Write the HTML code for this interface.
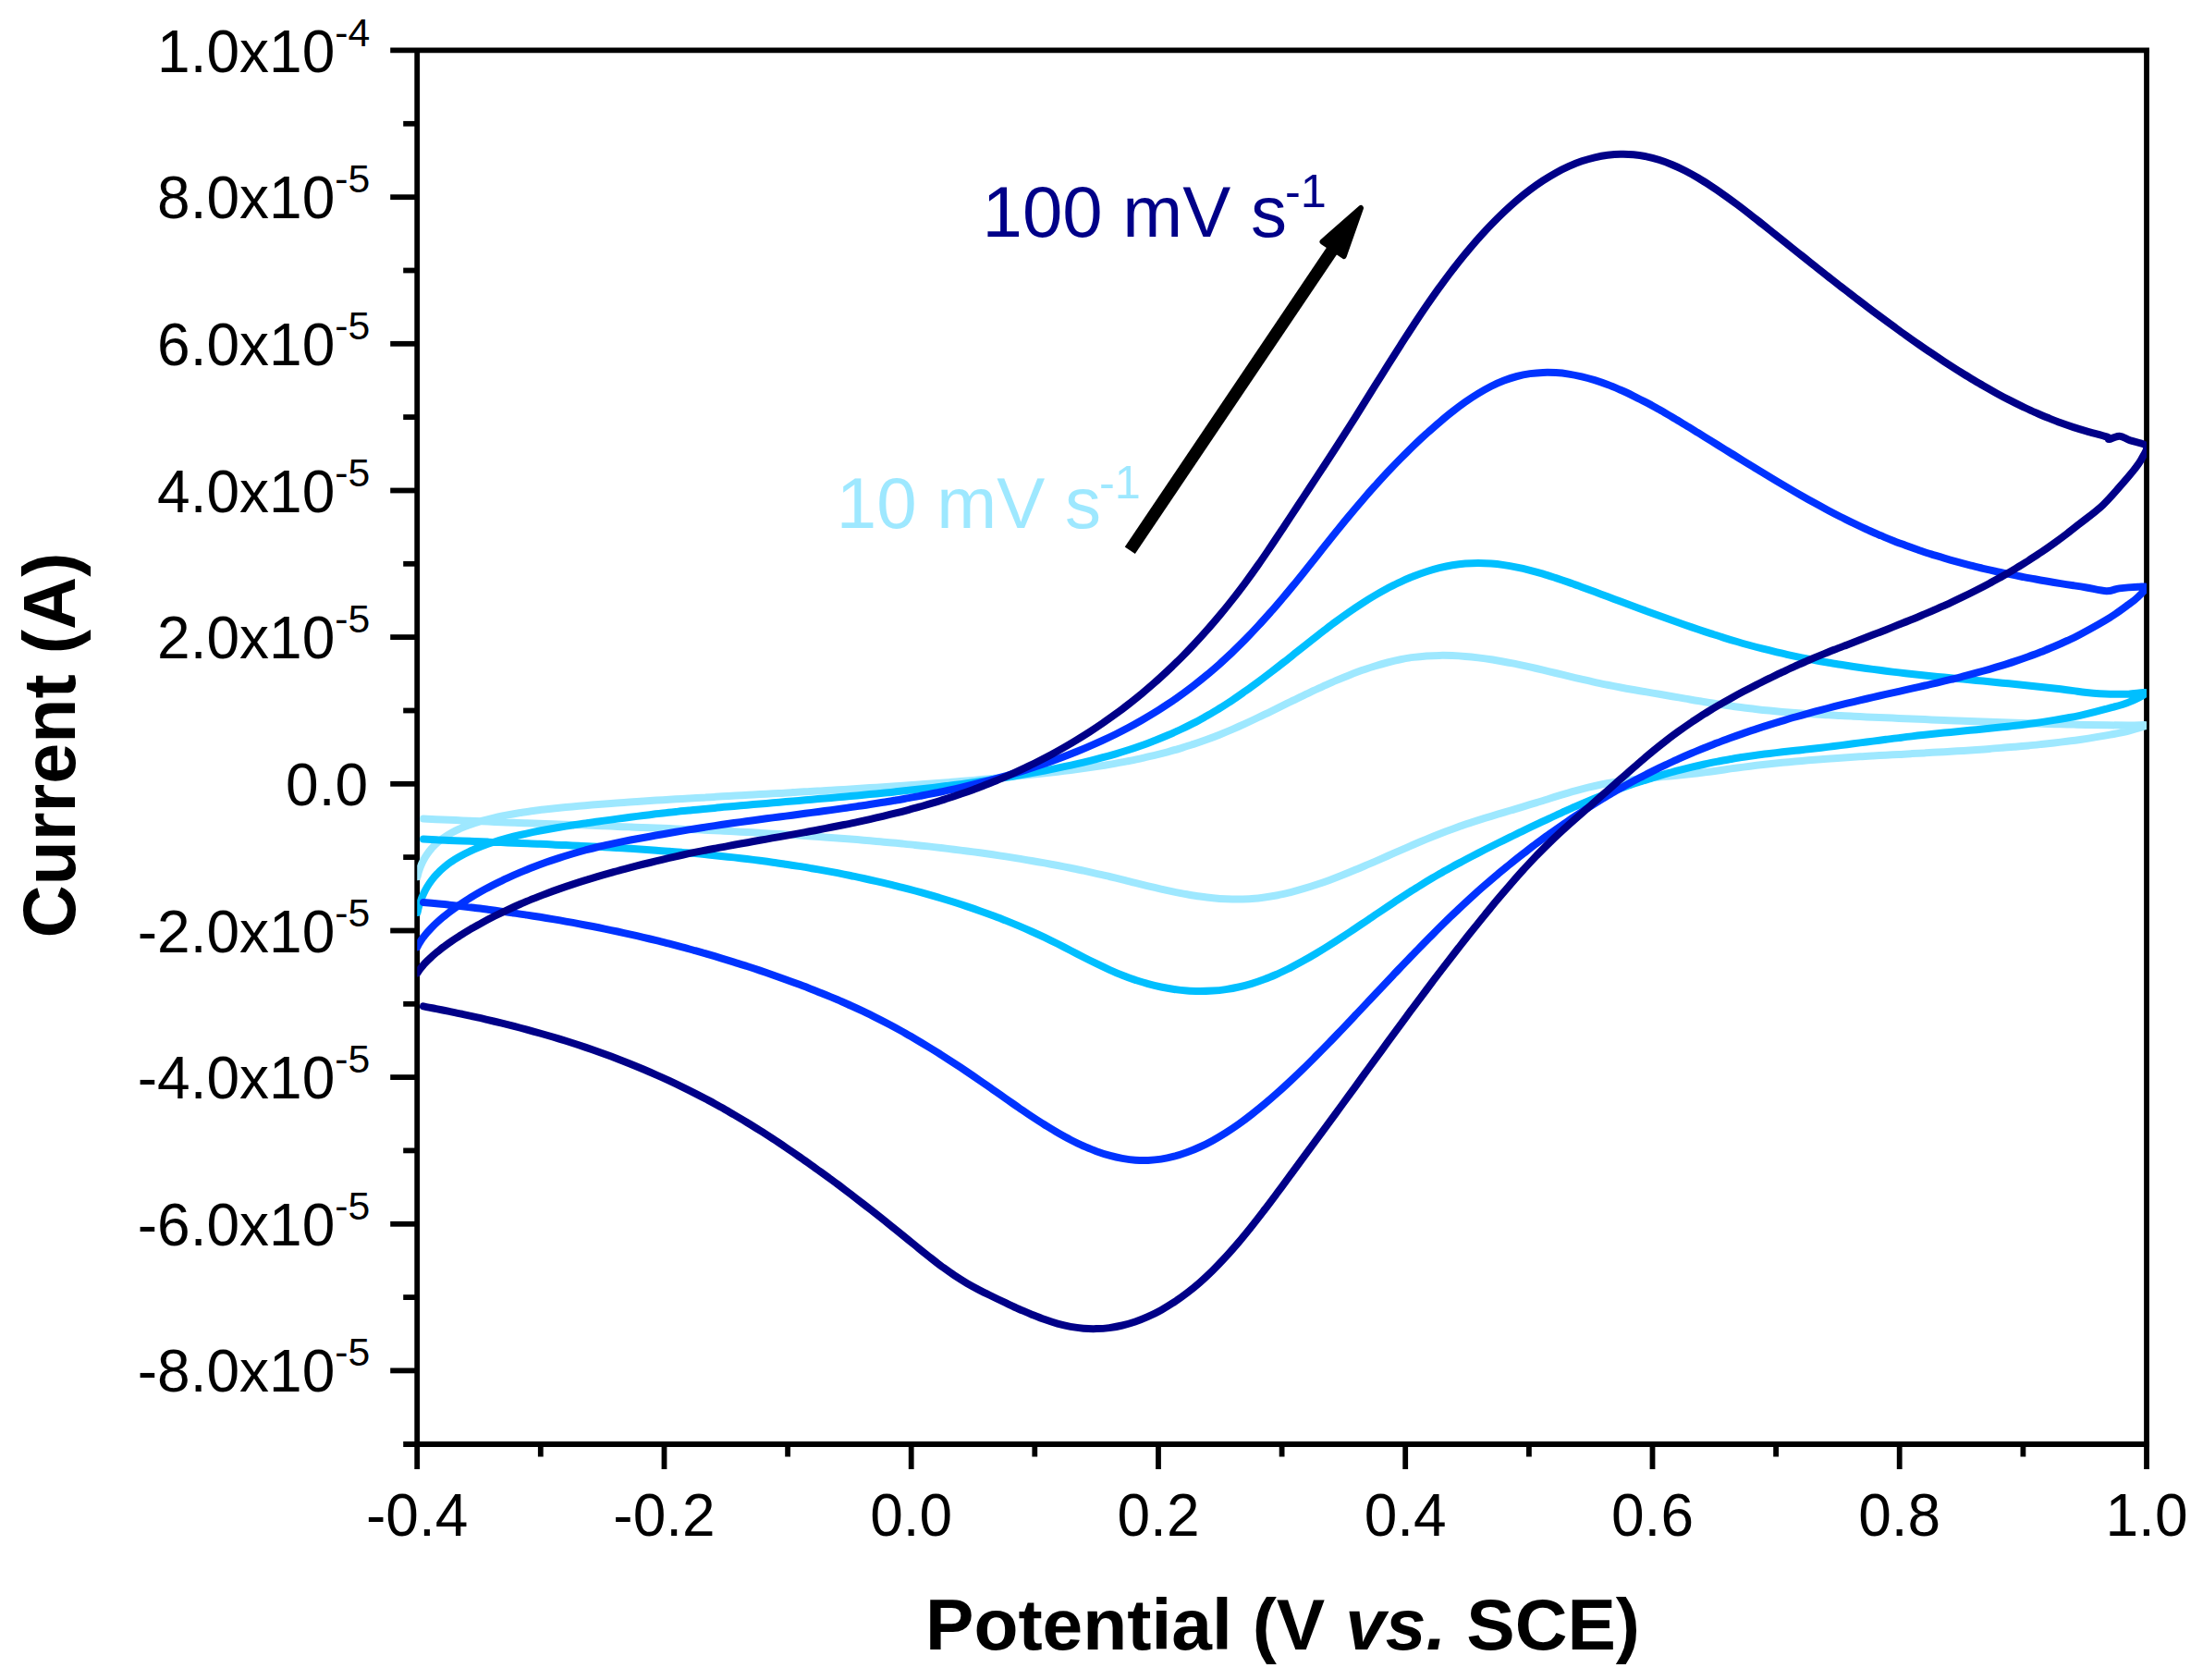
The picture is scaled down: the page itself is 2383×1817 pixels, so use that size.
<!DOCTYPE html>
<html><head><meta charset="utf-8"><title>CV scan rates</title>
<style>
html,body{margin:0;padding:0;background:#fff}
svg{display:block}
text{font-family:"Liberation Sans",Arial,sans-serif}
</style></head><body>
<svg width="2383" height="1817" viewBox="0 0 2383 1817">
<rect width="2383" height="1817" fill="#fff"/>
<defs><clipPath id="pa"><rect x="451.2" y="54.3" width="1870.8" height="1507.7"/></clipPath></defs>
<g stroke="#000" stroke-width="5.8" fill="none" stroke-linecap="butt">
<path d="M422.2 54.3H2324.9"/>
<path d="M436.2 1562.0H2324.9"/>
<path d="M451.2 54.3V1589.0"/>
<path d="M2322.0 54.3V1589.0"/>
<path d="M422.2 1482.4H451.2"/>
<path d="M422.2 1323.8H451.2"/>
<path d="M422.2 1165.1H451.2"/>
<path d="M422.2 1006.5H451.2"/>
<path d="M422.2 847.8H451.2"/>
<path d="M422.2 689.1H451.2"/>
<path d="M422.2 530.5H451.2"/>
<path d="M422.2 371.8H451.2"/>
<path d="M422.2 213.2H451.2"/>
<path d="M436.2 1403.1H451.2"/>
<path d="M436.2 1244.4H451.2"/>
<path d="M436.2 1085.8H451.2"/>
<path d="M436.2 927.1H451.2"/>
<path d="M436.2 768.5H451.2"/>
<path d="M436.2 609.8H451.2"/>
<path d="M436.2 451.1H451.2"/>
<path d="M436.2 292.5H451.2"/>
<path d="M436.2 133.8H451.2"/>
<path d="M718.5 1562.0V1589.0"/>
<path d="M985.7 1562.0V1589.0"/>
<path d="M1253.0 1562.0V1589.0"/>
<path d="M1520.2 1562.0V1589.0"/>
<path d="M1787.5 1562.0V1589.0"/>
<path d="M2054.7 1562.0V1589.0"/>
<path d="M584.8 1562.0V1575.5"/>
<path d="M852.1 1562.0V1575.5"/>
<path d="M1119.3 1562.0V1575.5"/>
<path d="M1386.6 1562.0V1575.5"/>
<path d="M1653.9 1562.0V1575.5"/>
<path d="M1921.1 1562.0V1575.5"/>
<path d="M2188.4 1562.0V1575.5"/>
</g>
<path clip-path="url(#pa)" fill="none" stroke="#9EE8FF" stroke-width="8.0" stroke-linejoin="round" stroke-linecap="round" d="M451.5 948.2C451.8 947.3 452.4 944.5 453.0 942.6C453.6 940.8 454.2 939.0 455.0 937.0C455.8 934.9 456.8 932.7 458.0 930.5C459.2 928.3 460.5 926.0 462.0 923.9C463.5 921.7 465.2 919.5 467.0 917.5C468.8 915.4 470.8 913.4 473.0 911.5C475.2 909.6 477.5 907.8 480.0 906.0C482.5 904.3 485.2 902.6 488.0 901.0C490.8 899.4 493.8 897.9 497.0 896.5C500.2 895.0 503.0 893.8 507.0 892.4C511.0 890.9 516.3 889.2 521.0 887.8C525.7 886.5 530.3 885.4 535.0 884.3C539.7 883.2 544.3 882.3 549.0 881.4C553.7 880.5 558.3 879.8 563.0 879.0C567.7 878.3 572.3 877.6 577.0 877.0C581.7 876.4 586.3 875.8 591.0 875.3C595.7 874.8 600.3 874.3 605.0 873.8C609.7 873.3 614.3 872.9 619.0 872.4C623.7 872.0 628.3 871.6 633.0 871.2C637.7 870.8 642.3 870.4 647.0 870.0C651.7 869.7 656.3 869.3 661.0 869.0C665.7 868.6 670.3 868.3 675.0 868.0C679.7 867.6 684.3 867.3 689.0 867.0C693.7 866.7 698.3 866.4 703.0 866.1C707.7 865.7 712.3 865.4 717.0 865.2C721.7 864.9 726.3 864.6 731.0 864.3C735.7 864.0 740.3 863.8 745.0 863.5C749.7 863.2 754.3 862.9 759.0 862.7C763.7 862.4 768.3 862.1 773.0 861.9C777.7 861.6 782.3 861.3 787.0 861.1C791.7 860.8 796.3 860.5 801.0 860.3C805.7 860.0 810.3 859.7 815.0 859.5C819.7 859.2 824.3 859.0 829.0 858.7C833.7 858.4 838.3 858.2 843.0 857.9C847.7 857.7 852.3 857.4 857.0 857.1C861.7 856.9 866.3 856.6 871.0 856.3C875.7 856.1 880.3 855.8 885.0 855.5C889.7 855.3 894.3 855.0 899.0 854.7C903.7 854.4 908.3 854.2 913.0 853.9C917.7 853.6 922.3 853.3 927.0 853.0C931.7 852.7 936.3 852.4 941.0 852.1C945.7 851.8 950.3 851.5 955.0 851.2C959.7 850.9 964.3 850.6 969.0 850.3C973.7 850.0 978.3 849.7 983.0 849.3C987.7 849.0 992.3 848.7 997.0 848.3C1001.7 848.0 1006.3 847.6 1011.0 847.3C1015.7 846.9 1020.3 846.6 1025.0 846.2C1029.7 845.8 1034.3 845.4 1039.0 845.1C1043.7 844.7 1048.3 844.3 1053.0 843.9C1057.7 843.5 1062.3 843.1 1067.0 842.6C1071.7 842.2 1076.3 841.8 1081.0 841.3C1085.7 840.9 1090.3 840.4 1095.0 840.0C1099.7 839.5 1104.3 839.0 1109.0 838.6C1113.7 838.1 1118.3 837.6 1123.0 837.1C1127.7 836.6 1132.3 836.0 1137.0 835.5C1141.7 835.0 1146.3 834.4 1151.0 833.9C1155.7 833.3 1160.3 832.7 1165.0 832.1C1169.7 831.4 1174.3 830.8 1179.0 830.1C1183.7 829.4 1188.3 828.7 1193.0 828.0C1197.7 827.2 1202.3 826.5 1207.0 825.6C1211.7 824.8 1216.3 823.9 1221.0 823.0C1225.7 822.1 1230.3 821.1 1235.0 820.1C1239.7 819.1 1244.3 818.0 1249.0 816.9C1253.7 815.7 1258.3 814.5 1263.0 813.3C1267.7 812.0 1272.3 810.7 1277.0 809.3C1281.7 807.9 1286.3 806.4 1291.0 804.9C1295.7 803.3 1300.3 801.7 1305.0 800.0C1309.7 798.3 1314.3 796.6 1319.0 794.7C1323.7 792.8 1328.3 790.9 1333.0 788.9C1337.7 786.8 1342.3 784.7 1347.0 782.6C1351.7 780.5 1356.3 778.3 1361.0 776.0C1365.7 773.8 1370.3 771.5 1375.0 769.3C1379.7 767.0 1384.3 764.7 1389.0 762.4C1393.7 760.1 1398.3 757.8 1403.0 755.6C1407.7 753.3 1412.3 751.0 1417.0 748.8C1421.7 746.6 1426.3 744.4 1431.0 742.3C1435.7 740.2 1440.3 738.1 1445.0 736.1C1449.7 734.1 1454.3 732.2 1459.0 730.4C1463.7 728.5 1468.3 726.8 1473.0 725.1C1477.7 723.5 1482.3 721.9 1487.0 720.5C1491.7 719.0 1496.3 717.7 1501.0 716.5C1505.7 715.3 1510.3 714.2 1515.0 713.3C1519.7 712.3 1524.3 711.5 1529.0 710.9C1533.7 710.3 1538.3 709.8 1543.0 709.4C1547.7 709.1 1552.3 708.9 1557.0 708.9C1561.7 708.8 1566.3 708.9 1571.0 709.1C1575.7 709.3 1580.3 709.6 1585.0 710.0C1589.7 710.3 1594.3 710.8 1599.0 711.4C1603.7 712.0 1608.3 712.6 1613.0 713.3C1617.7 714.1 1622.3 714.8 1627.0 715.7C1631.7 716.5 1636.3 717.5 1641.0 718.4C1645.7 719.4 1650.3 720.4 1655.0 721.4C1659.7 722.5 1664.3 723.5 1669.0 724.6C1673.7 725.7 1678.3 726.9 1683.0 728.0C1687.7 729.1 1692.3 730.3 1697.0 731.4C1701.7 732.5 1706.3 733.6 1711.0 734.7C1715.7 735.8 1720.3 736.9 1725.0 737.9C1729.7 738.9 1734.3 739.9 1739.0 740.8C1743.7 741.7 1748.3 742.6 1753.0 743.5C1757.7 744.4 1762.3 745.2 1767.0 746.0C1771.7 746.8 1776.3 747.6 1781.0 748.4C1785.7 749.2 1790.3 750.0 1795.0 750.8C1799.7 751.6 1804.3 752.4 1809.0 753.2C1813.7 754.0 1818.3 754.8 1823.0 755.6C1827.7 756.4 1832.3 757.3 1837.0 758.0C1841.7 758.8 1846.3 759.6 1851.0 760.3C1855.7 761.1 1860.3 761.8 1865.0 762.5C1869.7 763.2 1874.3 763.9 1879.0 764.5C1883.7 765.2 1888.3 765.7 1893.0 766.3C1897.7 766.9 1902.3 767.4 1907.0 767.9C1911.7 768.4 1916.3 768.8 1921.0 769.3C1925.7 769.7 1930.3 770.1 1935.0 770.5C1939.7 770.9 1944.3 771.2 1949.0 771.6C1953.7 771.9 1958.3 772.2 1963.0 772.5C1967.7 772.8 1972.3 773.1 1977.0 773.3C1981.7 773.6 1986.3 773.9 1991.0 774.1C1995.7 774.3 2000.3 774.5 2005.0 774.8C2009.7 775.0 2014.3 775.2 2019.0 775.4C2023.7 775.6 2028.3 775.8 2033.0 776.0C2037.7 776.2 2042.3 776.4 2047.0 776.6C2051.7 776.8 2056.3 777.0 2061.0 777.2C2065.7 777.4 2070.3 777.6 2075.0 777.8C2079.7 778.0 2084.3 778.2 2089.0 778.4C2093.7 778.6 2098.3 778.8 2103.0 779.0C2107.7 779.1 2112.3 779.3 2117.0 779.5C2121.7 779.7 2126.3 779.9 2131.0 780.1C2135.7 780.3 2140.3 780.4 2145.0 780.6C2149.7 780.8 2154.3 780.9 2159.0 781.1C2163.7 781.3 2168.3 781.4 2173.0 781.6C2177.7 781.8 2182.3 781.9 2187.0 782.1C2191.7 782.2 2196.3 782.4 2201.0 782.5C2205.7 782.6 2210.3 782.8 2215.0 782.9C2219.7 783.0 2224.3 783.1 2229.0 783.3C2233.7 783.4 2238.3 783.5 2243.0 783.6C2247.7 783.7 2247.1 783.7 2257.0 783.9C2266.9 784.0 2291.8 784.5 2302.5 784.6C2313.3 784.7 2321.5 783.5 2321.5 784.5C2321.5 785.5 2309.0 788.9 2302.5 790.6C2296.0 792.3 2291.3 793.0 2282.5 794.6C2273.8 796.2 2257.8 798.8 2250.0 800.0C2242.2 801.2 2240.7 801.2 2236.0 801.8C2231.3 802.4 2226.7 802.9 2222.0 803.5C2217.3 804.0 2212.7 804.5 2208.0 805.0C2203.3 805.5 2198.7 806.0 2194.0 806.4C2189.3 806.8 2184.7 807.3 2180.0 807.7C2175.3 808.1 2170.7 808.5 2166.0 808.8C2161.3 809.2 2156.7 809.6 2152.0 809.9C2147.3 810.3 2142.7 810.6 2138.0 810.9C2133.3 811.2 2128.7 811.6 2124.0 811.9C2119.3 812.2 2114.7 812.4 2110.0 812.7C2105.3 813.0 2100.7 813.3 2096.0 813.6C2091.3 813.8 2086.7 814.1 2082.0 814.4C2077.3 814.6 2072.7 814.9 2068.0 815.1C2063.3 815.4 2058.7 815.7 2054.0 815.9C2049.3 816.2 2044.7 816.4 2040.0 816.7C2035.3 817.0 2030.7 817.2 2026.0 817.5C2021.3 817.8 2016.7 818.1 2012.0 818.3C2007.3 818.6 2002.7 818.9 1998.0 819.2C1993.3 819.5 1988.7 819.9 1984.0 820.2C1979.3 820.5 1974.7 820.8 1970.0 821.2C1965.3 821.6 1960.7 821.9 1956.0 822.3C1951.3 822.7 1946.7 823.1 1942.0 823.5C1937.3 823.9 1932.7 824.4 1928.0 824.8C1923.3 825.3 1918.7 825.8 1914.0 826.3C1909.3 826.8 1904.7 827.3 1900.0 827.8C1895.3 828.4 1890.7 829.0 1886.0 829.6C1881.3 830.2 1876.7 830.8 1872.0 831.4C1867.3 832.1 1862.7 832.8 1858.0 833.5C1853.3 834.1 1848.7 834.8 1844.0 835.4C1839.3 836.0 1834.7 836.6 1830.0 837.1C1825.3 837.6 1820.7 838.1 1816.0 838.6C1811.3 839.0 1806.7 839.4 1802.0 839.8C1797.3 840.3 1792.7 840.6 1788.0 841.1C1783.3 841.5 1778.7 841.9 1774.0 842.4C1769.3 842.9 1764.7 843.5 1760.0 844.0C1755.3 844.6 1750.7 845.3 1746.0 846.0C1741.3 846.8 1736.7 847.6 1732.0 848.5C1727.3 849.5 1722.7 850.5 1718.0 851.6C1713.3 852.8 1708.7 854.0 1704.0 855.3C1699.3 856.6 1694.7 858.0 1690.0 859.4C1685.3 860.8 1680.7 862.2 1676.0 863.7C1671.3 865.1 1666.7 866.6 1662.0 868.1C1657.3 869.5 1652.7 870.9 1648.0 872.3C1643.3 873.8 1638.7 875.1 1634.0 876.5C1629.3 877.9 1624.7 879.3 1620.0 880.7C1615.3 882.1 1610.7 883.5 1606.0 884.9C1601.3 886.4 1596.7 887.9 1592.0 889.4C1587.3 890.9 1582.7 892.5 1578.0 894.1C1573.3 895.8 1568.7 897.5 1564.0 899.2C1559.3 901.0 1554.7 902.9 1550.0 904.7C1545.3 906.6 1540.7 908.6 1536.0 910.5C1531.3 912.5 1526.7 914.5 1522.0 916.6C1517.3 918.6 1512.7 920.6 1508.0 922.7C1503.3 924.7 1498.7 926.8 1494.0 928.8C1489.3 930.9 1484.7 932.9 1480.0 934.9C1475.3 936.9 1470.7 938.9 1466.0 940.8C1461.3 942.8 1456.7 944.7 1452.0 946.5C1447.3 948.4 1442.7 950.2 1438.0 951.9C1433.3 953.6 1428.7 955.2 1424.0 956.8C1419.3 958.4 1414.7 959.9 1410.0 961.2C1405.3 962.6 1400.7 963.9 1396.0 965.1C1391.3 966.2 1386.7 967.3 1382.0 968.2C1377.3 969.1 1372.7 969.9 1368.0 970.5C1363.3 971.2 1358.7 971.7 1354.0 972.0C1349.3 972.4 1344.7 972.5 1340.0 972.6C1335.3 972.6 1330.7 972.5 1326.0 972.3C1321.3 972.1 1316.7 971.7 1312.0 971.2C1307.3 970.8 1302.7 970.2 1298.0 969.5C1293.3 968.9 1288.7 968.1 1284.0 967.3C1279.3 966.5 1274.7 965.5 1270.0 964.6C1265.3 963.6 1260.7 962.6 1256.0 961.6C1251.3 960.5 1246.7 959.4 1242.0 958.3C1237.3 957.2 1232.7 956.0 1228.0 954.9C1223.3 953.7 1218.7 952.5 1214.0 951.4C1209.3 950.3 1204.7 949.1 1200.0 948.0C1195.3 946.9 1190.7 945.8 1186.0 944.8C1181.3 943.7 1176.7 942.7 1172.0 941.7C1167.3 940.7 1162.7 939.7 1158.0 938.8C1153.3 937.9 1148.7 936.9 1144.0 936.0C1139.3 935.1 1134.7 934.3 1130.0 933.4C1125.3 932.6 1120.7 931.8 1116.0 931.0C1111.3 930.1 1106.7 929.4 1102.0 928.6C1097.3 927.8 1092.7 927.1 1088.0 926.4C1083.3 925.7 1078.7 925.0 1074.0 924.3C1069.3 923.6 1064.7 923.0 1060.0 922.3C1055.3 921.7 1050.7 921.1 1046.0 920.5C1041.3 919.9 1036.7 919.3 1032.0 918.7C1027.3 918.1 1022.7 917.6 1018.0 917.0C1013.3 916.5 1008.7 916.0 1004.0 915.4C999.3 914.9 994.7 914.4 990.0 913.9C985.3 913.5 980.7 913.0 976.0 912.5C971.3 912.1 966.7 911.6 962.0 911.2C957.3 910.7 952.7 910.3 948.0 909.9C943.3 909.5 938.7 909.1 934.0 908.7C929.3 908.3 924.7 907.9 920.0 907.5C915.3 907.1 910.7 906.8 906.0 906.4C901.3 906.1 896.7 905.7 892.0 905.4C887.3 905.0 882.7 904.7 878.0 904.4C873.3 904.1 868.7 903.7 864.0 903.4C859.3 903.1 854.7 902.8 850.0 902.5C845.3 902.2 840.7 902.0 836.0 901.7C831.3 901.4 826.7 901.1 822.0 900.9C817.3 900.6 812.7 900.3 808.0 900.1C803.3 899.8 798.7 899.6 794.0 899.3C789.3 899.1 784.7 898.9 780.0 898.6C775.3 898.4 770.7 898.2 766.0 898.0C761.3 897.7 756.7 897.5 752.0 897.3C747.3 897.1 742.7 896.9 738.0 896.7C733.3 896.5 728.7 896.3 724.0 896.1C719.3 895.9 714.7 895.7 710.0 895.5C705.3 895.3 700.7 895.1 696.0 894.9C691.3 894.8 686.7 894.6 682.0 894.4C677.3 894.2 672.7 894.0 668.0 893.9C663.3 893.7 658.7 893.5 654.0 893.3C649.3 893.2 644.7 893.0 640.0 892.8C635.3 892.6 630.7 892.5 626.0 892.3C621.3 892.1 616.7 892.0 612.0 891.8C607.3 891.6 602.7 891.4 598.0 891.3C593.3 891.1 588.7 890.9 584.0 890.8C579.3 890.6 574.7 890.4 570.0 890.2C565.3 890.1 560.7 889.9 556.0 889.7C551.3 889.5 546.7 889.3 542.0 889.2C537.3 889.0 532.7 888.8 528.0 888.6C523.3 888.4 518.7 888.2 514.0 888.0C509.3 887.8 504.7 887.6 500.0 887.4C495.3 887.2 490.7 887.0 486.0 886.8C481.3 886.6 476.7 886.4 472.0 886.2C467.3 886.0 460.3 885.6 458.0 885.5"/>
<path clip-path="url(#pa)" fill="none" stroke="#00BFFF" stroke-width="8.0" stroke-linejoin="round" stroke-linecap="round" d="M451.5 987.0C451.8 985.9 452.4 982.8 453.0 980.7C453.6 978.6 454.2 976.6 455.0 974.3C455.8 972.0 456.8 969.4 458.0 966.9C459.2 964.4 460.5 961.8 462.0 959.3C463.5 956.8 465.2 954.3 467.0 951.9C468.8 949.5 470.8 947.1 473.0 944.9C475.2 942.6 477.5 940.4 480.0 938.3C482.5 936.2 485.2 934.1 488.0 932.1C490.8 930.2 493.8 928.3 497.0 926.5C500.2 924.7 503.0 923.1 507.0 921.3C511.0 919.4 516.3 917.1 521.0 915.3C525.7 913.5 530.3 912.0 535.0 910.5C539.7 909.0 544.3 907.7 549.0 906.4C553.7 905.2 558.3 904.1 563.0 903.0C567.7 901.9 572.3 900.9 577.0 899.9C581.7 899.0 586.3 898.1 591.0 897.2C595.7 896.4 600.3 895.6 605.0 894.8C609.7 894.0 614.3 893.3 619.0 892.5C623.7 891.8 628.3 891.1 633.0 890.5C637.7 889.8 642.3 889.1 647.0 888.5C651.7 887.8 656.3 887.2 661.0 886.6C665.7 886.0 670.3 885.3 675.0 884.7C679.7 884.1 684.3 883.5 689.0 882.9C693.7 882.3 698.3 881.8 703.0 881.2C707.7 880.6 712.3 880.1 717.0 879.6C721.7 879.0 726.3 878.5 731.0 878.0C735.7 877.5 740.3 877.0 745.0 876.6C749.7 876.1 754.3 875.6 759.0 875.2C763.7 874.7 768.3 874.3 773.0 873.9C777.7 873.4 782.3 873.0 787.0 872.6C791.7 872.2 796.3 871.7 801.0 871.3C805.7 870.9 810.3 870.5 815.0 870.1C819.7 869.7 824.3 869.3 829.0 868.9C833.7 868.5 838.3 868.1 843.0 867.7C847.7 867.3 852.3 866.9 857.0 866.5C861.7 866.1 866.3 865.7 871.0 865.3C875.7 864.9 880.3 864.5 885.0 864.1C889.7 863.7 894.3 863.3 899.0 862.9C903.7 862.5 908.3 862.1 913.0 861.7C917.7 861.3 922.3 860.8 927.0 860.4C931.7 860.0 936.3 859.5 941.0 859.1C945.7 858.6 950.3 858.2 955.0 857.7C959.7 857.3 964.3 856.8 969.0 856.3C973.7 855.8 978.3 855.3 983.0 854.8C987.7 854.3 992.3 853.8 997.0 853.3C1001.7 852.7 1006.3 852.2 1011.0 851.6C1015.7 851.1 1020.3 850.5 1025.0 849.9C1029.7 849.3 1034.3 848.7 1039.0 848.1C1043.7 847.5 1048.3 846.8 1053.0 846.2C1057.7 845.5 1062.3 844.8 1067.0 844.1C1071.7 843.4 1076.3 842.7 1081.0 842.0C1085.7 841.2 1090.3 840.5 1095.0 839.7C1099.7 838.9 1104.3 838.1 1109.0 837.3C1113.7 836.5 1118.3 835.6 1123.0 834.8C1127.7 833.9 1132.3 833.0 1137.0 832.1C1141.7 831.1 1146.3 830.2 1151.0 829.2C1155.7 828.2 1160.3 827.2 1165.0 826.1C1169.7 825.1 1174.3 824.0 1179.0 822.8C1183.7 821.7 1188.3 820.5 1193.0 819.2C1197.7 818.0 1202.3 816.7 1207.0 815.3C1211.7 813.9 1216.3 812.5 1221.0 811.0C1225.7 809.5 1230.3 807.9 1235.0 806.2C1239.7 804.6 1244.3 802.8 1249.0 801.0C1253.7 799.2 1258.3 797.3 1263.0 795.3C1267.7 793.3 1272.3 791.2 1277.0 789.0C1281.7 786.8 1286.3 784.5 1291.0 782.1C1295.7 779.7 1300.3 777.1 1305.0 774.5C1309.7 771.9 1314.3 769.1 1319.0 766.3C1323.7 763.4 1328.3 760.4 1333.0 757.3C1337.7 754.2 1342.3 750.9 1347.0 747.6C1351.7 744.3 1356.3 740.9 1361.0 737.5C1365.7 734.0 1370.3 730.5 1375.0 726.9C1379.7 723.3 1384.3 719.7 1389.0 716.0C1393.7 712.4 1398.3 708.6 1403.0 704.9C1407.7 701.2 1412.3 697.5 1417.0 693.8C1421.7 690.2 1426.3 686.5 1431.0 682.9C1435.7 679.3 1440.3 675.7 1445.0 672.3C1449.7 668.8 1454.3 665.4 1459.0 662.2C1463.7 658.9 1468.3 655.8 1473.0 652.8C1477.7 649.7 1482.3 646.8 1487.0 644.1C1491.7 641.3 1496.3 638.7 1501.0 636.2C1505.7 633.8 1510.3 631.4 1515.0 629.3C1519.7 627.1 1524.3 625.1 1529.0 623.2C1533.7 621.4 1538.3 619.7 1543.0 618.2C1547.7 616.6 1552.3 615.3 1557.0 614.1C1561.7 613.0 1566.3 612.0 1571.0 611.2C1575.7 610.4 1580.3 609.8 1585.0 609.4C1589.7 609.1 1594.3 608.9 1599.0 608.9C1603.7 608.9 1608.3 609.1 1613.0 609.5C1617.7 609.8 1622.3 610.4 1627.0 611.1C1631.7 611.7 1636.3 612.6 1641.0 613.6C1645.7 614.5 1650.3 615.6 1655.0 616.8C1659.7 618.0 1664.3 619.3 1669.0 620.7C1673.7 622.1 1678.3 623.6 1683.0 625.1C1687.7 626.7 1692.3 628.3 1697.0 629.9C1701.7 631.5 1706.3 633.2 1711.0 634.9C1715.7 636.6 1720.3 638.4 1725.0 640.1C1729.7 641.8 1734.3 643.6 1739.0 645.3C1743.7 647.0 1748.3 648.8 1753.0 650.5C1757.7 652.3 1762.3 654.0 1767.0 655.7C1771.7 657.5 1776.3 659.2 1781.0 660.9C1785.7 662.6 1790.3 664.3 1795.0 666.0C1799.7 667.7 1804.3 669.4 1809.0 671.1C1813.7 672.7 1818.3 674.4 1823.0 676.0C1827.7 677.6 1832.3 679.2 1837.0 680.8C1841.7 682.3 1846.3 683.9 1851.0 685.4C1855.7 686.9 1860.3 688.4 1865.0 689.8C1869.7 691.3 1874.3 692.7 1879.0 694.0C1883.7 695.4 1888.3 696.7 1893.0 698.0C1897.7 699.3 1902.3 700.5 1907.0 701.7C1911.7 702.9 1916.3 704.0 1921.0 705.1C1925.7 706.2 1930.3 707.3 1935.0 708.3C1939.7 709.3 1944.3 710.3 1949.0 711.3C1953.7 712.2 1958.3 713.1 1963.0 714.0C1967.7 714.9 1972.3 715.7 1977.0 716.5C1981.7 717.3 1986.3 718.1 1991.0 718.8C1995.7 719.6 2000.3 720.3 2005.0 721.0C2009.7 721.7 2014.3 722.3 2019.0 723.0C2023.7 723.6 2028.3 724.2 2033.0 724.8C2037.7 725.4 2042.3 726.0 2047.0 726.6C2051.7 727.1 2056.3 727.7 2061.0 728.2C2065.7 728.7 2070.3 729.2 2075.0 729.7C2079.7 730.2 2084.3 730.7 2089.0 731.2C2093.7 731.7 2098.3 732.1 2103.0 732.6C2107.7 733.0 2112.3 733.5 2117.0 733.9C2121.7 734.4 2126.3 734.8 2131.0 735.3C2135.7 735.7 2140.3 736.2 2145.0 736.6C2149.7 737.1 2154.3 737.5 2159.0 738.0C2163.7 738.4 2168.3 738.9 2173.0 739.3C2177.7 739.8 2182.3 740.2 2187.0 740.7C2191.7 741.2 2196.3 741.7 2201.0 742.2C2205.7 742.7 2210.3 743.2 2215.0 743.7C2219.7 744.2 2224.3 744.8 2229.0 745.3C2233.7 745.9 2238.3 746.5 2243.0 747.1C2247.7 747.7 2250.4 748.3 2257.0 748.9C2263.6 749.5 2275.0 750.4 2282.5 750.7C2290.1 750.9 2296.0 750.9 2302.5 750.7C2309.0 750.5 2321.5 748.0 2321.5 749.5C2321.5 751.0 2309.0 757.0 2302.5 759.6C2296.0 762.3 2291.3 763.3 2282.5 765.6C2273.8 768.0 2257.8 772.0 2250.0 773.8C2242.2 775.6 2240.7 775.7 2236.0 776.5C2231.3 777.4 2226.7 778.2 2222.0 778.9C2217.3 779.7 2212.7 780.4 2208.0 781.1C2203.3 781.8 2198.7 782.4 2194.0 783.0C2189.3 783.6 2184.7 784.2 2180.0 784.7C2175.3 785.3 2170.7 785.8 2166.0 786.3C2161.3 786.8 2156.7 787.3 2152.0 787.8C2147.3 788.3 2142.7 788.7 2138.0 789.2C2133.3 789.6 2128.7 790.1 2124.0 790.5C2119.3 791.0 2114.7 791.4 2110.0 791.9C2105.3 792.4 2100.7 792.8 2096.0 793.3C2091.3 793.8 2086.7 794.3 2082.0 794.8C2077.3 795.3 2072.7 795.8 2068.0 796.4C2063.3 796.9 2058.7 797.5 2054.0 798.1C2049.3 798.6 2044.7 799.2 2040.0 799.8C2035.3 800.4 2030.7 801.0 2026.0 801.6C2021.3 802.2 2016.7 802.8 2012.0 803.4C2007.3 804.0 2002.7 804.6 1998.0 805.2C1993.3 805.8 1988.7 806.4 1984.0 807.0C1979.3 807.6 1974.7 808.1 1970.0 808.7C1965.3 809.2 1960.7 809.7 1956.0 810.2C1951.3 810.8 1946.7 811.3 1942.0 811.8C1937.3 812.3 1932.7 812.8 1928.0 813.3C1923.3 813.9 1918.7 814.4 1914.0 815.0C1909.3 815.5 1904.7 816.1 1900.0 816.7C1895.3 817.4 1890.7 818.0 1886.0 818.7C1881.3 819.4 1876.7 820.2 1872.0 821.0C1867.3 821.8 1862.7 822.7 1858.0 823.6C1853.3 824.5 1848.7 825.4 1844.0 826.5C1839.3 827.5 1834.7 828.5 1830.0 829.6C1825.3 830.8 1820.7 831.9 1816.0 833.1C1811.3 834.3 1806.7 835.6 1802.0 836.9C1797.3 838.3 1792.7 839.6 1788.0 841.1C1783.3 842.5 1778.7 844.0 1774.0 845.5C1769.3 847.0 1764.7 848.6 1760.0 850.2C1755.3 851.9 1750.7 853.6 1746.0 855.3C1741.3 857.0 1736.7 858.8 1732.0 860.7C1727.3 862.5 1722.7 864.4 1718.0 866.4C1713.3 868.3 1708.7 870.3 1704.0 872.4C1699.3 874.4 1694.7 876.5 1690.0 878.6C1685.3 880.7 1680.7 882.9 1676.0 885.1C1671.3 887.2 1666.7 889.5 1662.0 891.7C1657.3 893.9 1652.7 896.1 1648.0 898.4C1643.3 900.6 1638.7 902.9 1634.0 905.2C1629.3 907.5 1624.7 909.7 1620.0 912.0C1615.3 914.4 1610.7 916.7 1606.0 919.0C1601.3 921.4 1596.7 923.8 1592.0 926.2C1587.3 928.6 1582.7 931.1 1578.0 933.6C1573.3 936.1 1568.7 938.7 1564.0 941.3C1559.3 943.9 1554.7 946.6 1550.0 949.3C1545.3 952.1 1540.7 954.9 1536.0 957.8C1531.3 960.6 1526.7 963.6 1522.0 966.6C1517.3 969.6 1512.7 972.7 1508.0 975.8C1503.3 978.9 1498.7 982.0 1494.0 985.2C1489.3 988.3 1484.7 991.5 1480.0 994.7C1475.3 997.8 1470.7 1001.0 1466.0 1004.1C1461.3 1007.2 1456.7 1010.4 1452.0 1013.4C1447.3 1016.5 1442.7 1019.5 1438.0 1022.4C1433.3 1025.4 1428.7 1028.2 1424.0 1031.0C1419.3 1033.8 1414.7 1036.5 1410.0 1039.1C1405.3 1041.7 1400.7 1044.2 1396.0 1046.6C1391.3 1048.9 1386.7 1051.2 1382.0 1053.3C1377.3 1055.3 1372.7 1057.3 1368.0 1059.0C1363.3 1060.8 1358.7 1062.4 1354.0 1063.8C1349.3 1065.2 1344.7 1066.5 1340.0 1067.5C1335.3 1068.6 1330.7 1069.4 1326.0 1070.1C1321.3 1070.8 1316.7 1071.3 1312.0 1071.6C1307.3 1071.9 1302.7 1072.1 1298.0 1072.1C1293.3 1072.0 1288.7 1071.9 1284.0 1071.5C1279.3 1071.2 1274.7 1070.7 1270.0 1070.0C1265.3 1069.3 1260.7 1068.5 1256.0 1067.5C1251.3 1066.5 1246.7 1065.4 1242.0 1064.1C1237.3 1062.9 1232.7 1061.4 1228.0 1059.9C1223.3 1058.3 1218.7 1056.6 1214.0 1054.7C1209.3 1052.9 1204.7 1050.9 1200.0 1048.8C1195.3 1046.7 1190.7 1044.5 1186.0 1042.2C1181.3 1039.9 1176.7 1037.6 1172.0 1035.2C1167.3 1032.8 1162.7 1030.4 1158.0 1028.0C1153.3 1025.6 1148.7 1023.2 1144.0 1020.8C1139.3 1018.5 1134.7 1016.2 1130.0 1013.9C1125.3 1011.7 1120.7 1009.6 1116.0 1007.5C1111.3 1005.4 1106.7 1003.4 1102.0 1001.4C1097.3 999.4 1092.7 997.5 1088.0 995.6C1083.3 993.8 1078.7 992.0 1074.0 990.3C1069.3 988.5 1064.7 986.8 1060.0 985.2C1055.3 983.5 1050.7 981.9 1046.0 980.4C1041.3 978.8 1036.7 977.3 1032.0 975.8C1027.3 974.3 1022.7 972.9 1018.0 971.5C1013.3 970.1 1008.7 968.8 1004.0 967.4C999.3 966.1 994.7 964.8 990.0 963.5C985.3 962.3 980.7 961.1 976.0 959.9C971.3 958.7 966.7 957.5 962.0 956.4C957.3 955.2 952.7 954.1 948.0 953.1C943.3 952.0 938.7 951.0 934.0 950.0C929.3 948.9 924.7 948.0 920.0 947.0C915.3 946.1 910.7 945.1 906.0 944.2C901.3 943.3 896.7 942.5 892.0 941.6C887.3 940.8 882.7 940.0 878.0 939.2C873.3 938.4 868.7 937.6 864.0 936.9C859.3 936.1 854.7 935.4 850.0 934.7C845.3 934.0 840.7 933.3 836.0 932.7C831.3 932.0 826.7 931.4 822.0 930.8C817.3 930.2 812.7 929.6 808.0 929.0C803.3 928.5 798.7 927.9 794.0 927.4C789.3 926.9 784.7 926.4 780.0 925.9C775.3 925.4 770.7 924.9 766.0 924.4C761.3 924.0 756.7 923.6 752.0 923.1C747.3 922.7 742.7 922.3 738.0 921.9C733.3 921.5 728.7 921.1 724.0 920.8C719.3 920.4 714.7 920.0 710.0 919.7C705.3 919.4 700.7 919.0 696.0 918.7C691.3 918.4 686.7 918.1 682.0 917.8C677.3 917.5 672.7 917.2 668.0 917.0C663.3 916.7 658.7 916.4 654.0 916.2C649.3 915.9 644.7 915.7 640.0 915.4C635.3 915.2 630.7 915.0 626.0 914.7C621.3 914.5 616.7 914.3 612.0 914.1C607.3 913.9 602.7 913.7 598.0 913.4C593.3 913.2 588.7 913.0 584.0 912.8C579.3 912.7 574.7 912.5 570.0 912.3C565.3 912.1 560.7 911.9 556.0 911.7C551.3 911.5 546.7 911.3 542.0 911.1C537.3 911.0 532.7 910.8 528.0 910.6C523.3 910.4 518.7 910.2 514.0 910.0C509.3 909.8 504.7 909.6 500.0 909.5C495.3 909.3 490.7 909.1 486.0 908.9C481.3 908.7 476.7 908.5 472.0 908.2C467.3 908.0 460.3 907.7 458.0 907.6"/>
<path clip-path="url(#pa)" fill="none" stroke="#0033FF" stroke-width="8.0" stroke-linejoin="round" stroke-linecap="round" d="M451.5 1024.2C451.8 1023.7 452.4 1022.2 453.0 1021.2C453.6 1020.1 454.2 1019.1 455.0 1017.8C455.8 1016.6 456.8 1015.1 458.0 1013.6C459.2 1012.0 460.5 1010.3 462.0 1008.6C463.5 1006.9 465.2 1005.1 467.0 1003.2C468.8 1001.3 470.8 999.4 473.0 997.4C475.2 995.4 477.5 993.4 480.0 991.3C482.5 989.3 485.2 987.2 488.0 985.1C490.8 982.9 493.8 980.8 497.0 978.6C500.2 976.5 503.0 974.6 507.0 972.1C511.0 969.6 516.3 966.4 521.0 963.8C525.7 961.2 530.3 958.7 535.0 956.4C539.7 954.0 544.3 951.7 549.0 949.6C553.7 947.4 558.3 945.4 563.0 943.4C567.7 941.5 572.3 939.6 577.0 937.8C581.7 936.0 586.3 934.3 591.0 932.6C595.7 930.9 600.3 929.4 605.0 927.9C609.7 926.3 614.3 924.9 619.0 923.5C623.7 922.1 628.3 920.8 633.0 919.5C637.7 918.3 642.3 917.1 647.0 916.0C651.7 914.9 656.3 913.8 661.0 912.8C665.7 911.8 670.3 910.9 675.0 909.9C679.7 909.0 684.3 908.1 689.0 907.2C693.7 906.4 698.3 905.5 703.0 904.7C707.7 903.8 712.3 903.0 717.0 902.2C721.7 901.4 726.3 900.6 731.0 899.8C735.7 899.0 740.3 898.2 745.0 897.4C749.7 896.6 754.3 895.9 759.0 895.2C763.7 894.5 768.3 893.8 773.0 893.1C777.7 892.4 782.3 891.7 787.0 891.0C791.7 890.4 796.3 889.7 801.0 889.1C805.7 888.4 810.3 887.8 815.0 887.2C819.7 886.6 824.3 885.9 829.0 885.3C833.7 884.7 838.3 884.1 843.0 883.5C847.7 882.9 852.3 882.3 857.0 881.7C861.7 881.1 866.3 880.4 871.0 879.8C875.7 879.2 880.3 878.6 885.0 878.0C889.7 877.4 894.3 876.7 899.0 876.1C903.7 875.4 908.3 874.8 913.0 874.1C917.7 873.5 922.3 872.8 927.0 872.1C931.7 871.4 936.3 870.8 941.0 870.0C945.7 869.3 950.3 868.6 955.0 867.8C959.7 867.1 964.3 866.3 969.0 865.5C973.7 864.8 978.3 863.9 983.0 863.1C987.7 862.3 992.3 861.4 997.0 860.5C1001.7 859.6 1006.3 858.7 1011.0 857.8C1015.7 856.9 1020.3 855.9 1025.0 854.9C1029.7 853.9 1034.3 852.9 1039.0 851.8C1043.7 850.7 1048.3 849.6 1053.0 848.5C1057.7 847.3 1062.3 846.2 1067.0 845.0C1071.7 843.7 1076.3 842.5 1081.0 841.2C1085.7 839.9 1090.3 838.6 1095.0 837.2C1099.7 835.8 1104.3 834.4 1109.0 832.9C1113.7 831.4 1118.3 829.9 1123.0 828.3C1127.7 826.8 1132.3 825.1 1137.0 823.5C1141.7 821.8 1146.3 820.1 1151.0 818.3C1155.7 816.5 1160.3 814.7 1165.0 812.8C1169.7 810.9 1174.3 809.0 1179.0 806.9C1183.7 804.9 1188.3 802.9 1193.0 800.7C1197.7 798.5 1202.3 796.3 1207.0 794.0C1211.7 791.7 1216.3 789.3 1221.0 786.8C1225.7 784.3 1230.3 781.7 1235.0 779.0C1239.7 776.3 1244.3 773.6 1249.0 770.7C1253.7 767.8 1258.3 764.8 1263.0 761.7C1267.7 758.6 1272.3 755.4 1277.0 752.0C1281.7 748.7 1286.3 745.2 1291.0 741.6C1295.7 738.0 1300.3 734.3 1305.0 730.4C1309.7 726.5 1314.3 722.5 1319.0 718.4C1323.7 714.2 1328.3 709.9 1333.0 705.5C1337.7 701.0 1342.3 696.4 1347.0 691.7C1351.7 686.9 1356.3 682.0 1361.0 676.9C1365.7 671.9 1370.3 666.7 1375.0 661.4C1379.7 656.1 1384.3 650.6 1389.0 645.1C1393.7 639.6 1398.3 633.9 1403.0 628.2C1407.7 622.5 1412.3 616.6 1417.0 610.8C1421.7 604.9 1426.3 599.0 1431.0 593.1C1435.7 587.3 1440.3 581.4 1445.0 575.6C1449.7 569.8 1454.3 564.0 1459.0 558.4C1463.7 552.7 1468.3 547.2 1473.0 541.8C1477.7 536.3 1482.3 531.0 1487.0 525.8C1491.7 520.6 1496.3 515.5 1501.0 510.5C1505.7 505.6 1510.3 500.7 1515.0 496.0C1519.7 491.3 1524.3 486.7 1529.0 482.2C1533.7 477.7 1538.3 473.3 1543.0 469.1C1547.7 464.9 1552.3 460.7 1557.0 456.8C1561.7 452.8 1566.3 448.9 1571.0 445.3C1575.7 441.6 1580.3 438.1 1585.0 434.8C1589.7 431.5 1594.3 428.4 1599.0 425.6C1603.7 422.7 1608.3 420.1 1613.0 417.7C1617.7 415.4 1622.3 413.3 1627.0 411.5C1631.7 409.7 1636.3 408.2 1641.0 407.0C1645.7 405.7 1650.3 404.8 1655.0 404.1C1659.7 403.5 1664.3 403.1 1669.0 402.9C1673.7 402.7 1678.3 402.8 1683.0 403.1C1687.7 403.4 1692.3 403.9 1697.0 404.6C1701.7 405.3 1706.3 406.3 1711.0 407.4C1715.7 408.5 1720.3 409.8 1725.0 411.2C1729.7 412.7 1734.3 414.3 1739.0 416.1C1743.7 417.8 1748.3 419.8 1753.0 421.8C1757.7 423.8 1762.3 426.0 1767.0 428.3C1771.7 430.6 1776.3 433.0 1781.0 435.4C1785.7 437.9 1790.3 440.5 1795.0 443.1C1799.7 445.7 1804.3 448.5 1809.0 451.2C1813.7 453.9 1818.3 456.8 1823.0 459.6C1827.7 462.4 1832.3 465.3 1837.0 468.2C1841.7 471.1 1846.3 474.0 1851.0 476.9C1855.7 479.8 1860.3 482.7 1865.0 485.6C1869.7 488.5 1874.3 491.4 1879.0 494.2C1883.7 497.1 1888.3 500.0 1893.0 502.9C1897.7 505.7 1902.3 508.6 1907.0 511.4C1911.7 514.3 1916.3 517.1 1921.0 519.9C1925.7 522.7 1930.3 525.4 1935.0 528.1C1939.7 530.9 1944.3 533.6 1949.0 536.2C1953.7 538.9 1958.3 541.5 1963.0 544.1C1967.7 546.7 1972.3 549.2 1977.0 551.7C1981.7 554.2 1986.3 556.6 1991.0 559.0C1995.7 561.3 2000.3 563.7 2005.0 565.9C2009.7 568.2 2014.3 570.4 2019.0 572.5C2023.7 574.6 2028.3 576.7 2033.0 578.7C2037.7 580.6 2042.3 582.6 2047.0 584.4C2051.7 586.3 2056.3 588.0 2061.0 589.8C2065.7 591.5 2070.3 593.1 2075.0 594.7C2079.7 596.3 2084.3 597.9 2089.0 599.4C2093.7 600.8 2098.3 602.3 2103.0 603.6C2107.7 605.0 2112.3 606.3 2117.0 607.6C2121.7 608.9 2126.3 610.1 2131.0 611.3C2135.7 612.5 2140.3 613.7 2145.0 614.8C2149.7 615.9 2154.3 616.9 2159.0 618.0C2163.7 619.0 2168.3 620.0 2173.0 620.9C2177.7 621.9 2182.3 622.8 2187.0 623.7C2191.7 624.6 2196.3 625.5 2201.0 626.3C2205.7 627.2 2210.3 628.0 2215.0 628.8C2219.7 629.6 2224.3 630.3 2229.0 631.1C2233.7 631.9 2238.3 632.6 2243.0 633.3C2247.7 634.0 2251.1 634.5 2257.0 635.5C2262.9 636.4 2272.6 639.1 2278.5 639.2C2284.5 639.4 2286.9 637.1 2292.5 636.4C2298.2 635.7 2307.7 635.0 2312.5 634.8C2317.3 634.7 2321.5 633.7 2321.5 635.5C2321.5 637.3 2315.7 642.8 2312.5 645.8C2309.3 648.8 2307.5 650.1 2302.5 653.8C2297.5 657.5 2291.3 662.4 2282.5 667.8C2273.8 673.2 2257.8 682.0 2250.0 686.2C2242.2 690.5 2240.7 690.9 2236.0 693.0C2231.3 695.2 2226.7 697.3 2222.0 699.3C2217.3 701.3 2212.7 703.1 2208.0 705.0C2203.3 706.8 2198.7 708.6 2194.0 710.2C2189.3 711.9 2184.7 713.5 2180.0 715.1C2175.3 716.7 2170.7 718.1 2166.0 719.6C2161.3 721.0 2156.7 722.4 2152.0 723.8C2147.3 725.1 2142.7 726.4 2138.0 727.7C2133.3 729.0 2128.7 730.2 2124.0 731.4C2119.3 732.6 2114.7 733.8 2110.0 734.9C2105.3 736.1 2100.7 737.2 2096.0 738.3C2091.3 739.4 2086.7 740.5 2082.0 741.5C2077.3 742.6 2072.7 743.6 2068.0 744.7C2063.3 745.7 2058.7 746.7 2054.0 747.8C2049.3 748.8 2044.7 749.9 2040.0 750.9C2035.3 752.0 2030.7 753.0 2026.0 754.1C2021.3 755.2 2016.7 756.3 2012.0 757.4C2007.3 758.5 2002.7 759.6 1998.0 760.7C1993.3 761.9 1988.7 763.0 1984.0 764.2C1979.3 765.4 1974.7 766.6 1970.0 767.8C1965.3 769.1 1960.7 770.3 1956.0 771.6C1951.3 772.9 1946.7 774.2 1942.0 775.5C1937.3 776.8 1932.7 778.2 1928.0 779.6C1923.3 781.0 1918.7 782.4 1914.0 783.9C1909.3 785.3 1904.7 786.8 1900.0 788.4C1895.3 789.9 1890.7 791.5 1886.0 793.1C1881.3 794.7 1876.7 796.3 1872.0 798.0C1867.3 799.7 1862.7 801.5 1858.0 803.3C1853.3 805.0 1848.7 806.9 1844.0 808.8C1839.3 810.6 1834.7 812.6 1830.0 814.5C1825.3 816.5 1820.7 818.5 1816.0 820.6C1811.3 822.7 1806.7 824.9 1802.0 827.1C1797.3 829.3 1792.7 831.5 1788.0 833.8C1783.3 836.2 1778.7 838.5 1774.0 841.0C1769.3 843.4 1764.7 845.9 1760.0 848.5C1755.3 851.1 1750.7 853.8 1746.0 856.5C1741.3 859.2 1736.7 862.0 1732.0 864.8C1727.3 867.7 1722.7 870.6 1718.0 873.6C1713.3 876.5 1708.7 879.6 1704.0 882.7C1699.3 885.8 1694.7 889.0 1690.0 892.2C1685.3 895.4 1680.7 898.7 1676.0 902.1C1671.3 905.4 1666.7 908.9 1662.0 912.3C1657.3 915.8 1652.7 919.4 1648.0 923.0C1643.3 926.6 1638.7 930.3 1634.0 934.1C1629.3 937.8 1624.7 941.7 1620.0 945.6C1615.3 949.5 1610.7 953.5 1606.0 957.6C1601.3 961.6 1596.7 965.8 1592.0 970.0C1587.3 974.3 1582.7 978.6 1578.0 983.0C1573.3 987.4 1568.7 991.9 1564.0 996.4C1559.3 1001.0 1554.7 1005.6 1550.0 1010.3C1545.3 1015.0 1540.7 1019.7 1536.0 1024.5C1531.3 1029.3 1526.7 1034.1 1522.0 1039.0C1517.3 1043.8 1512.7 1048.7 1508.0 1053.6C1503.3 1058.6 1498.7 1063.5 1494.0 1068.4C1489.3 1073.4 1484.7 1078.4 1480.0 1083.3C1475.3 1088.3 1470.7 1093.2 1466.0 1098.1C1461.3 1103.1 1456.7 1108.0 1452.0 1112.9C1447.3 1117.8 1442.7 1122.7 1438.0 1127.5C1433.3 1132.3 1428.7 1137.0 1424.0 1141.7C1419.3 1146.4 1414.7 1151.1 1410.0 1155.6C1405.3 1160.2 1400.7 1164.6 1396.0 1169.0C1391.3 1173.4 1386.7 1177.7 1382.0 1181.8C1377.3 1186.0 1372.7 1190.0 1368.0 1193.9C1363.3 1197.8 1358.7 1201.6 1354.0 1205.2C1349.3 1208.9 1344.7 1212.4 1340.0 1215.7C1335.3 1219.0 1330.7 1222.1 1326.0 1225.1C1321.3 1228.1 1316.7 1230.8 1312.0 1233.4C1307.3 1236.0 1302.7 1238.4 1298.0 1240.5C1293.3 1242.7 1288.7 1244.6 1284.0 1246.3C1279.3 1248.0 1274.7 1249.5 1270.0 1250.7C1265.3 1251.9 1260.7 1252.9 1256.0 1253.6C1251.3 1254.3 1246.7 1254.7 1242.0 1254.9C1237.3 1255.1 1232.7 1255.0 1228.0 1254.7C1223.3 1254.4 1218.7 1253.7 1214.0 1252.9C1209.3 1252.1 1204.7 1251.0 1200.0 1249.7C1195.3 1248.4 1190.7 1246.9 1186.0 1245.2C1181.3 1243.5 1176.7 1241.5 1172.0 1239.5C1167.3 1237.4 1162.7 1235.1 1158.0 1232.7C1153.3 1230.3 1148.7 1227.7 1144.0 1225.0C1139.3 1222.3 1134.7 1219.4 1130.0 1216.5C1125.3 1213.6 1120.7 1210.6 1116.0 1207.5C1111.3 1204.4 1106.7 1201.2 1102.0 1198.0C1097.3 1194.8 1092.7 1191.5 1088.0 1188.3C1083.3 1185.0 1078.7 1181.7 1074.0 1178.4C1069.3 1175.2 1064.7 1171.9 1060.0 1168.7C1055.3 1165.5 1050.7 1162.3 1046.0 1159.1C1041.3 1156.0 1036.7 1152.9 1032.0 1149.8C1027.3 1146.8 1022.7 1143.8 1018.0 1140.8C1013.3 1137.8 1008.7 1134.9 1004.0 1132.1C999.3 1129.2 994.7 1126.4 990.0 1123.7C985.3 1120.9 980.7 1118.3 976.0 1115.6C971.3 1113.0 966.7 1110.5 962.0 1108.0C957.3 1105.5 952.7 1103.1 948.0 1100.8C943.3 1098.4 938.7 1096.2 934.0 1093.9C929.3 1091.7 924.7 1089.6 920.0 1087.5C915.3 1085.4 910.7 1083.3 906.0 1081.3C901.3 1079.4 896.7 1077.4 892.0 1075.5C887.3 1073.6 882.7 1071.7 878.0 1069.9C873.3 1068.1 868.7 1066.3 864.0 1064.6C859.3 1062.8 854.7 1061.1 850.0 1059.4C845.3 1057.7 840.7 1056.1 836.0 1054.4C831.3 1052.8 826.7 1051.2 822.0 1049.6C817.3 1048.1 812.7 1046.5 808.0 1045.0C803.3 1043.5 798.7 1042.0 794.0 1040.6C789.3 1039.1 784.7 1037.7 780.0 1036.3C775.3 1034.9 770.7 1033.5 766.0 1032.1C761.3 1030.8 756.7 1029.5 752.0 1028.2C747.3 1026.9 742.7 1025.6 738.0 1024.4C733.3 1023.1 728.7 1021.9 724.0 1020.7C719.3 1019.5 714.7 1018.3 710.0 1017.2C705.3 1016.1 700.7 1014.9 696.0 1013.8C691.3 1012.7 686.7 1011.7 682.0 1010.6C677.3 1009.6 672.7 1008.5 668.0 1007.5C663.3 1006.5 658.7 1005.6 654.0 1004.6C649.3 1003.6 644.7 1002.7 640.0 1001.8C635.3 1000.9 630.7 1000.0 626.0 999.1C621.3 998.2 616.7 997.4 612.0 996.6C607.3 995.7 602.7 994.9 598.0 994.1C593.3 993.3 588.7 992.6 584.0 991.8C579.3 991.1 574.7 990.3 570.0 989.6C565.3 988.9 560.7 988.2 556.0 987.6C551.3 986.9 546.7 986.2 542.0 985.6C537.3 984.9 532.7 984.3 528.0 983.7C523.3 983.1 518.7 982.5 514.0 982.0C509.3 981.4 504.7 980.8 500.0 980.3C495.3 979.8 490.7 979.2 486.0 978.7C481.3 978.2 476.7 977.7 472.0 977.3C467.3 976.8 460.3 976.1 458.0 975.9"/>
<path clip-path="url(#pa)" fill="none" stroke="#000088" stroke-width="8.0" stroke-linejoin="round" stroke-linecap="round" d="M451.5 1052.4C451.8 1052.0 452.4 1050.9 453.0 1050.0C453.6 1049.2 454.2 1048.3 455.0 1047.3C455.8 1046.2 456.8 1045.0 458.0 1043.7C459.2 1042.3 460.5 1040.9 462.0 1039.4C463.5 1037.9 465.2 1036.3 467.0 1034.7C468.8 1033.0 470.8 1031.3 473.0 1029.5C475.2 1027.8 477.5 1025.9 480.0 1024.1C482.5 1022.2 485.2 1020.3 488.0 1018.3C490.8 1016.3 493.8 1014.3 497.0 1012.3C500.2 1010.3 503.0 1008.5 507.0 1006.1C511.0 1003.8 516.3 1000.7 521.0 998.2C525.7 995.6 530.3 993.2 535.0 990.8C539.7 988.5 544.3 986.3 549.0 984.1C553.7 981.9 558.3 979.8 563.0 977.8C567.7 975.8 572.3 973.8 577.0 971.9C581.7 970.1 586.3 968.2 591.0 966.5C595.7 964.7 600.3 963.0 605.0 961.4C609.7 959.7 614.3 958.1 619.0 956.6C623.7 955.0 628.3 953.5 633.0 952.1C637.7 950.6 642.3 949.3 647.0 947.9C651.7 946.5 656.3 945.2 661.0 943.9C665.7 942.6 670.3 941.3 675.0 940.1C679.7 938.8 684.3 937.6 689.0 936.4C693.7 935.2 698.3 934.1 703.0 933.0C707.7 931.8 712.3 930.7 717.0 929.6C721.7 928.5 726.3 927.4 731.0 926.3C735.7 925.3 740.3 924.2 745.0 923.2C749.7 922.2 754.3 921.3 759.0 920.4C763.7 919.5 768.3 918.6 773.0 917.7C777.7 916.8 782.3 915.9 787.0 915.1C791.7 914.2 796.3 913.4 801.0 912.5C805.7 911.7 810.3 910.9 815.0 910.0C819.7 909.2 824.3 908.4 829.0 907.6C833.7 906.7 838.3 905.9 843.0 905.1C847.7 904.3 852.3 903.4 857.0 902.6C861.7 901.8 866.3 900.9 871.0 900.1C875.7 899.2 880.3 898.3 885.0 897.5C889.7 896.6 894.3 895.7 899.0 894.8C903.7 893.9 908.3 893.0 913.0 892.0C917.7 891.1 922.3 890.1 927.0 889.1C931.7 888.1 936.3 887.1 941.0 886.1C945.7 885.0 950.3 883.9 955.0 882.8C959.7 881.7 964.3 880.6 969.0 879.4C973.7 878.3 978.3 877.1 983.0 875.8C987.7 874.6 992.3 873.3 997.0 872.0C1001.7 870.6 1006.3 869.3 1011.0 867.9C1015.7 866.5 1020.3 865.0 1025.0 863.5C1029.7 862.0 1034.3 860.4 1039.0 858.8C1043.7 857.2 1048.3 855.6 1053.0 853.9C1057.7 852.1 1062.3 850.4 1067.0 848.5C1071.7 846.7 1076.3 844.8 1081.0 842.9C1085.7 840.9 1090.3 838.9 1095.0 836.8C1099.7 834.7 1104.3 832.6 1109.0 830.4C1113.7 828.1 1118.3 825.9 1123.0 823.5C1127.7 821.1 1132.3 818.7 1137.0 816.2C1141.7 813.7 1146.3 811.1 1151.0 808.4C1155.7 805.7 1160.3 803.0 1165.0 800.1C1169.7 797.3 1174.3 794.4 1179.0 791.4C1183.7 788.3 1188.3 785.2 1193.0 782.0C1197.7 778.8 1202.3 775.5 1207.0 772.1C1211.7 768.7 1216.3 765.2 1221.0 761.5C1225.7 757.9 1230.3 754.1 1235.0 750.3C1239.7 746.4 1244.3 742.4 1249.0 738.3C1253.7 734.2 1258.3 729.9 1263.0 725.5C1267.7 721.1 1272.3 716.6 1277.0 712.0C1281.7 707.3 1286.3 702.5 1291.0 697.5C1295.7 692.6 1300.3 687.5 1305.0 682.2C1309.7 676.9 1314.3 671.5 1319.0 665.9C1323.7 660.3 1328.3 654.6 1333.0 648.6C1337.7 642.7 1342.3 636.6 1347.0 630.3C1351.7 624.0 1356.3 617.6 1361.0 610.9C1365.7 604.3 1370.3 597.4 1375.0 590.5C1379.7 583.6 1384.3 576.5 1389.0 569.5C1393.7 562.4 1398.3 555.3 1403.0 548.2C1407.7 541.1 1412.3 534.1 1417.0 527.0C1421.7 519.9 1426.3 512.8 1431.0 505.7C1435.7 498.6 1440.3 491.5 1445.0 484.2C1449.7 477.0 1454.3 469.7 1459.0 462.4C1463.7 455.0 1468.3 447.6 1473.0 440.2C1477.7 432.7 1482.3 425.2 1487.0 417.7C1491.7 410.3 1496.3 402.8 1501.0 395.4C1505.7 388.0 1510.3 380.6 1515.0 373.3C1519.7 366.0 1524.3 358.8 1529.0 351.7C1533.7 344.6 1538.3 337.6 1543.0 330.8C1547.7 324.0 1552.3 317.4 1557.0 310.9C1561.7 304.5 1566.3 298.2 1571.0 292.1C1575.7 286.1 1580.3 280.2 1585.0 274.5C1589.7 268.9 1594.3 263.4 1599.0 258.1C1603.7 252.9 1608.3 247.8 1613.0 243.0C1617.7 238.1 1622.3 233.5 1627.0 229.1C1631.7 224.7 1636.3 220.5 1641.0 216.5C1645.7 212.5 1650.3 208.8 1655.0 205.3C1659.7 201.7 1664.3 198.5 1669.0 195.4C1673.7 192.3 1678.3 189.5 1683.0 186.9C1687.7 184.3 1692.3 182.0 1697.0 179.9C1701.7 177.8 1706.3 175.9 1711.0 174.3C1715.7 172.7 1720.3 171.4 1725.0 170.3C1729.7 169.2 1734.3 168.3 1739.0 167.7C1743.7 167.1 1748.3 166.7 1753.0 166.7C1757.7 166.6 1762.3 166.7 1767.0 167.2C1771.7 167.6 1776.3 168.3 1781.0 169.3C1785.7 170.2 1790.3 171.5 1795.0 173.0C1799.7 174.4 1804.3 176.2 1809.0 178.2C1813.7 180.1 1818.3 182.3 1823.0 184.7C1827.7 187.1 1832.3 189.7 1837.0 192.5C1841.7 195.2 1846.3 198.2 1851.0 201.3C1855.7 204.3 1860.3 207.5 1865.0 210.9C1869.7 214.2 1874.3 217.6 1879.0 221.1C1883.7 224.6 1888.3 228.2 1893.0 231.9C1897.7 235.5 1902.3 239.2 1907.0 242.9C1911.7 246.6 1916.3 250.4 1921.0 254.1C1925.7 257.9 1930.3 261.6 1935.0 265.3C1939.7 269.1 1944.3 272.8 1949.0 276.5C1953.7 280.2 1958.3 284.0 1963.0 287.7C1967.7 291.4 1972.3 295.1 1977.0 298.7C1981.7 302.4 1986.3 306.1 1991.0 309.7C1995.7 313.3 2000.3 317.0 2005.0 320.5C2009.7 324.1 2014.3 327.7 2019.0 331.2C2023.7 334.8 2028.3 338.3 2033.0 341.8C2037.7 345.3 2042.3 348.7 2047.0 352.1C2051.7 355.5 2056.3 358.9 2061.0 362.2C2065.7 365.6 2070.3 368.9 2075.0 372.1C2079.7 375.4 2084.3 378.6 2089.0 381.7C2093.7 384.9 2098.3 388.0 2103.0 391.1C2107.7 394.1 2112.3 397.1 2117.0 400.1C2121.7 403.0 2126.3 405.9 2131.0 408.7C2135.7 411.5 2140.3 414.3 2145.0 417.0C2149.7 419.7 2154.3 422.3 2159.0 424.9C2163.7 427.5 2168.3 430.0 2173.0 432.4C2177.7 434.8 2182.3 437.1 2187.0 439.4C2191.7 441.6 2196.3 443.8 2201.0 445.9C2205.7 447.9 2210.3 449.9 2215.0 451.8C2219.7 453.7 2224.3 455.6 2229.0 457.3C2233.7 459.0 2238.3 460.6 2243.0 462.1C2247.7 463.6 2250.9 464.6 2257.0 466.3C2263.1 468.1 2275.3 471.1 2279.4 472.6C2283.5 474.1 2279.2 475.2 2281.4 475.1C2283.6 474.9 2289.0 471.5 2292.7 471.7C2296.5 471.9 2299.2 474.4 2304.0 476.2C2308.8 478.0 2319.4 479.1 2321.5 482.5C2323.6 485.9 2318.6 492.3 2316.5 496.5C2314.3 500.8 2311.8 503.7 2308.6 507.9C2305.4 512.0 2302.9 515.0 2297.3 521.4C2291.6 527.8 2282.5 538.9 2274.6 546.3C2266.8 553.7 2256.4 561.0 2250.0 566.1C2243.6 571.2 2240.7 573.6 2236.0 577.1C2231.3 580.7 2226.7 584.1 2222.0 587.5C2217.3 590.9 2212.7 594.1 2208.0 597.3C2203.3 600.4 2198.7 603.5 2194.0 606.5C2189.3 609.4 2184.7 612.3 2180.0 615.1C2175.3 617.9 2170.7 620.6 2166.0 623.3C2161.3 625.9 2156.7 628.5 2152.0 631.0C2147.3 633.5 2142.7 635.9 2138.0 638.3C2133.3 640.7 2128.7 643.0 2124.0 645.2C2119.3 647.5 2114.7 649.7 2110.0 651.8C2105.3 654.0 2100.7 656.0 2096.0 658.1C2091.3 660.2 2086.7 662.2 2082.0 664.1C2077.3 666.1 2072.7 668.1 2068.0 670.0C2063.3 671.9 2058.7 673.8 2054.0 675.6C2049.3 677.5 2044.7 679.3 2040.0 681.2C2035.3 683.0 2030.7 684.8 2026.0 686.6C2021.3 688.4 2016.7 690.2 2012.0 692.0C2007.3 693.8 2002.7 695.6 1998.0 697.4C1993.3 699.2 1988.7 700.9 1984.0 702.8C1979.3 704.6 1974.7 706.5 1970.0 708.4C1965.3 710.3 1960.7 712.2 1956.0 714.2C1951.3 716.2 1946.7 718.3 1942.0 720.4C1937.3 722.5 1932.7 724.7 1928.0 726.9C1923.3 729.1 1918.7 731.4 1914.0 733.7C1909.3 735.9 1904.7 738.3 1900.0 740.6C1895.3 743.0 1890.7 745.4 1886.0 747.8C1881.3 750.3 1876.7 752.8 1872.0 755.4C1867.3 758.0 1862.7 760.6 1858.0 763.4C1853.3 766.1 1848.7 769.0 1844.0 771.9C1839.3 774.8 1834.7 777.9 1830.0 781.0C1825.3 784.2 1820.7 787.4 1816.0 790.8C1811.3 794.1 1806.7 797.6 1802.0 801.2C1797.3 804.8 1792.7 808.5 1788.0 812.4C1783.3 816.2 1778.7 820.2 1774.0 824.2C1769.3 828.2 1764.7 832.3 1760.0 836.4C1755.3 840.5 1750.7 844.7 1746.0 848.8C1741.3 852.9 1736.7 857.0 1732.0 861.1C1727.3 865.2 1722.7 869.3 1718.0 873.4C1713.3 877.5 1708.7 881.6 1704.0 885.8C1699.3 889.9 1694.7 894.0 1690.0 898.3C1685.3 902.6 1680.7 907.0 1676.0 911.5C1671.3 916.0 1666.7 920.7 1662.0 925.5C1657.3 930.4 1652.7 935.4 1648.0 940.5C1643.3 945.6 1638.7 950.9 1634.0 956.3C1629.3 961.7 1624.7 967.2 1620.0 972.7C1615.3 978.3 1610.7 984.0 1606.0 989.7C1601.3 995.4 1596.7 1001.2 1592.0 1007.1C1587.3 1012.9 1582.7 1018.8 1578.0 1024.8C1573.3 1030.8 1568.7 1036.8 1564.0 1042.9C1559.3 1048.9 1554.7 1055.0 1550.0 1061.2C1545.3 1067.4 1540.7 1073.6 1536.0 1079.8C1531.3 1086.0 1526.7 1092.3 1522.0 1098.6C1517.3 1104.9 1512.7 1111.3 1508.0 1117.6C1503.3 1124.0 1498.7 1130.4 1494.0 1136.8C1489.3 1143.2 1484.7 1149.6 1480.0 1156.0C1475.3 1162.4 1470.7 1168.8 1466.0 1175.3C1461.3 1181.7 1456.7 1188.1 1452.0 1194.5C1447.3 1200.9 1442.7 1207.2 1438.0 1213.6C1433.3 1219.9 1428.7 1226.3 1424.0 1232.6C1419.3 1238.9 1414.7 1245.3 1410.0 1251.6C1405.3 1258.0 1400.7 1264.4 1396.0 1270.7C1391.3 1277.1 1386.7 1283.4 1382.0 1289.7C1377.3 1296.0 1372.7 1302.2 1368.0 1308.3C1363.3 1314.4 1358.7 1320.4 1354.0 1326.3C1349.3 1332.1 1344.7 1337.8 1340.0 1343.4C1335.3 1348.9 1330.7 1354.2 1326.0 1359.3C1321.3 1364.4 1316.7 1369.2 1312.0 1373.8C1307.3 1378.4 1302.7 1382.8 1298.0 1386.9C1293.3 1391.0 1288.7 1394.8 1284.0 1398.4C1279.3 1402.0 1274.7 1405.3 1270.0 1408.4C1265.3 1411.5 1260.7 1414.3 1256.0 1416.9C1251.3 1419.5 1246.7 1421.8 1242.0 1423.9C1237.3 1426.0 1232.7 1427.9 1228.0 1429.5C1223.3 1431.1 1218.7 1432.4 1214.0 1433.5C1209.3 1434.6 1204.7 1435.4 1200.0 1436.1C1195.3 1436.7 1190.7 1437.0 1186.0 1437.1C1181.3 1437.2 1176.7 1437.1 1172.0 1436.7C1167.3 1436.3 1162.7 1435.7 1158.0 1434.9C1153.3 1434.0 1148.7 1432.9 1144.0 1431.6C1139.3 1430.3 1134.7 1428.8 1130.0 1427.1C1125.3 1425.5 1120.7 1423.6 1116.0 1421.7C1111.3 1419.8 1106.7 1417.7 1102.0 1415.7C1097.3 1413.6 1092.7 1411.4 1088.0 1409.2C1083.3 1407.0 1078.7 1404.8 1074.0 1402.5C1069.3 1400.2 1064.7 1398.0 1060.0 1395.6C1055.3 1393.2 1050.7 1390.7 1046.0 1388.0C1041.3 1385.2 1036.7 1382.3 1032.0 1379.2C1027.3 1376.0 1022.7 1372.6 1018.0 1369.2C1013.3 1365.7 1008.7 1362.0 1004.0 1358.3C999.3 1354.6 994.7 1350.8 990.0 1347.0C985.3 1343.2 980.7 1339.4 976.0 1335.6C971.3 1331.8 966.7 1328.0 962.0 1324.3C957.3 1320.5 952.7 1316.8 948.0 1313.1C943.3 1309.5 938.7 1305.8 934.0 1302.2C929.3 1298.6 924.7 1295.0 920.0 1291.4C915.3 1287.9 910.7 1284.3 906.0 1280.8C901.3 1277.4 896.7 1273.9 892.0 1270.5C887.3 1267.1 882.7 1263.7 878.0 1260.4C873.3 1257.1 868.7 1253.8 864.0 1250.6C859.3 1247.3 854.7 1244.1 850.0 1241.0C845.3 1237.8 840.7 1234.7 836.0 1231.7C831.3 1228.6 826.7 1225.6 822.0 1222.7C817.3 1219.7 812.7 1216.8 808.0 1214.0C803.3 1211.1 798.7 1208.3 794.0 1205.6C789.3 1202.9 784.7 1200.2 780.0 1197.6C775.3 1195.0 770.7 1192.4 766.0 1189.9C761.3 1187.4 756.7 1185.0 752.0 1182.6C747.3 1180.2 742.7 1177.9 738.0 1175.6C733.3 1173.3 728.7 1171.1 724.0 1168.9C719.3 1166.7 714.7 1164.6 710.0 1162.6C705.3 1160.5 700.7 1158.5 696.0 1156.5C691.3 1154.5 686.7 1152.6 682.0 1150.7C677.3 1148.9 672.7 1147.0 668.0 1145.2C663.3 1143.5 658.7 1141.7 654.0 1140.0C649.3 1138.3 644.7 1136.7 640.0 1135.0C635.3 1133.4 630.7 1131.9 626.0 1130.3C621.3 1128.8 616.7 1127.3 612.0 1125.8C607.3 1124.4 602.7 1122.9 598.0 1121.5C593.3 1120.2 588.7 1118.8 584.0 1117.5C579.3 1116.2 574.7 1114.9 570.0 1113.6C565.3 1112.4 560.7 1111.1 556.0 1109.9C551.3 1108.7 546.7 1107.6 542.0 1106.4C537.3 1105.3 532.7 1104.2 528.0 1103.1C523.3 1102.0 518.7 1100.9 514.0 1099.9C509.3 1098.9 504.7 1097.8 500.0 1096.8C495.3 1095.9 490.7 1094.9 486.0 1093.9C481.3 1093.0 476.7 1092.0 472.0 1091.1C467.3 1090.2 460.3 1088.9 458.0 1088.4"/>
<g font-size="64" fill="#000" text-anchor="end">
<text x="400.2" y="77.5">1.0x10<tspan font-size="42.7" dy="-28">-4</tspan></text>
<text x="400.2" y="236.2">8.0x10<tspan font-size="42.7" dy="-28">-5</tspan></text>
<text x="400.2" y="394.8">6.0x10<tspan font-size="42.7" dy="-28">-5</tspan></text>
<text x="400.2" y="553.5">4.0x10<tspan font-size="42.7" dy="-28">-5</tspan></text>
<text x="400.2" y="712.1">2.0x10<tspan font-size="42.7" dy="-28">-5</tspan></text>
<text x="398" y="870.8">0.0</text>
<text x="400.2" y="1029.5">-2.0x10<tspan font-size="42.7" dy="-28">-5</tspan></text>
<text x="400.2" y="1188.1">-4.0x10<tspan font-size="42.7" dy="-28">-5</tspan></text>
<text x="400.2" y="1346.8">-6.0x10<tspan font-size="42.7" dy="-28">-5</tspan></text>
<text x="400.2" y="1505.4">-8.0x10<tspan font-size="42.7" dy="-28">-5</tspan></text>
</g>
<g font-size="64" fill="#000" text-anchor="middle">
<text x="451.2" y="1660.5">-0.4</text>
<text x="718.5" y="1660.5">-0.2</text>
<text x="985.7" y="1660.5">0.0</text>
<text x="1253.0" y="1660.5">0.2</text>
<text x="1520.2" y="1660.5">0.4</text>
<text x="1787.5" y="1660.5">0.6</text>
<text x="2054.7" y="1660.5">0.8</text>
<text x="2322.0" y="1660.5">1.0</text>
</g>
<text x="1387.5" y="1784" font-size="78.6" font-weight="bold" text-anchor="middle">Potential (V <tspan font-style="italic">vs.</tspan> SCE)</text>
<text transform="translate(81 806) rotate(-90)" font-size="79" font-weight="bold" text-anchor="middle">Current (A)</text>
<text x="1062.5" y="256" font-size="78" fill="#000088">100 mV s<tspan font-size="50.5" dy="-32.5" dx="-2">-1</tspan></text>
<text x="904.8" y="571" font-size="78" fill="#9EE8FF">10 mV s<tspan font-size="50.5" dy="-32.5" dx="-2">-1</tspan></text>
<path d="M1222.3 595.2L1443.2 267.6" stroke="#000" stroke-width="13.4" fill="none"/>
<path d="M1472.0 225.0L1453.7 277.1L1430.5 261.4Z" fill="#000" stroke="#000" stroke-width="6.0" stroke-linejoin="round"/>
</svg></body></html>
